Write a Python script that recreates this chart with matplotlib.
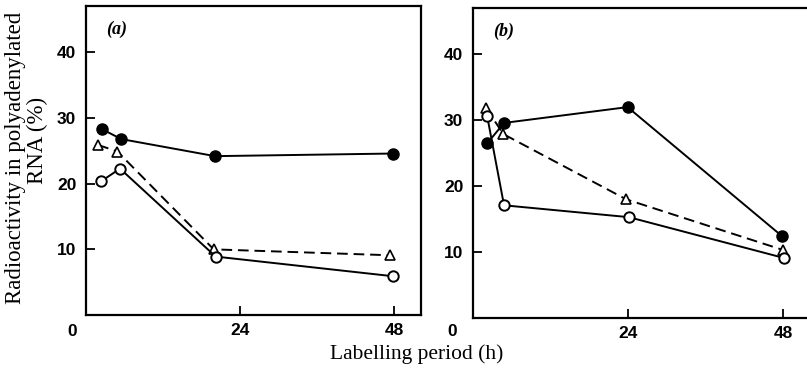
"""Radioactivity in polyadenylated RNA vs labelling period, panels (a) and (b)."""
import matplotlib
matplotlib.use("Agg")
import matplotlib.pyplot as plt

# Panel (a)
a_filled_x = [2.5, 5.5, 20.1, 47.9]
a_filled_y = [28.3, 26.8, 24.2, 24.6]
a_tri_x = [1.9, 4.9, 19.9, 47.4]
a_tri_y = [25.9, 24.9, 10.0, 9.1]
a_open_x = [2.4, 5.3, 20.2, 47.9]
a_open_y = [20.4, 22.3, 8.9, 5.9]

# Panel (b)
b_filled_x = [2.2, 4.8, 23.9, 47.8]
b_filled_y = [26.5, 29.6, 32.0, 12.4]
b_tri_x = [2.0, 4.7, 23.7, 48.0]
b_tri_y = [31.9, 27.9, 18.0, 10.3]
b_open_x = [2.2, 4.8, 24.1, 48.1]
b_open_y = [30.6, 17.1, 15.3, 9.1]

y_ticks = [10, 20, 30, 40]
x_ticks = [24, 48]

TICK_FONT = dict(family=["Liberation Sans Narrow", "Liberation Sans", "DejaVu Sans"],
                 weight="bold", size=12.5)
SERIF = ["Liberation Serif", "DejaVu Serif"]

fig = plt.figure(figsize=(8.07, 3.75), dpi=100)
ax_a = fig.add_axes([0.1066, 0.160, 0.4151, 0.8227])
ax_b = fig.add_axes([0.5861, 0.152, 0.4200, 0.8260])


def draw_panel(ax, fx, fy, tx, ty, ox, oy, tag, xmax):
    ax.plot(fx, fy, "-", color="black", lw=1.4, marker="o", ms=8,
            mfc="black", mec="black", zorder=3)
    ax.plot(tx, ty, "--", color="black", lw=1.4, dashes=(5.5, 3), marker="^",
            ms=6.5, mfc="white", mec="black", mew=1.2, zorder=3)
    ax.plot(ox, oy, "-", color="black", lw=1.4, marker="o", ms=7.5,
            mfc="white", mec="black", mew=1.4, zorder=4)

    ax.set_xlim(0, xmax)
    ax.set_ylim(0, 47)
    ax.set_xticks(x_ticks)
    ax.set_yticks(y_ticks)
    ax.tick_params(direction="in", length=6.5, width=1.3, pad=7)
    ax.tick_params(axis="x", pad=6)
    for lbl in ax.get_xticklabels() + ax.get_yticklabels():
        lbl.set_fontfamily(TICK_FONT["family"])
        lbl.set_fontweight(TICK_FONT["weight"])
        lbl.set_fontsize(TICK_FONT["size"])
    for sp in ax.spines.values():
        sp.set_linewidth(1.6)

    ax.text(0.09, 0.925, tag, transform=ax.transAxes, ha="center", va="center",
            fontsize=13, fontweight="bold", fontstyle="italic", family=SERIF)


draw_panel(ax_a, a_filled_x, a_filled_y, a_tri_x, a_tri_y, a_open_x, a_open_y,
           "(a)", 52.2)
draw_panel(ax_b, b_filled_x, b_filled_y, b_tri_x, b_tri_y, b_open_x, b_open_y,
           "(b)", 52.4)
ax_b.spines["right"].set_visible(False)

# origin labels sit below-left of each corner
fig.text(72 / 807, 1 - 332 / 375, "0", ha="center", va="center", **TICK_FONT)
fig.text(452 / 807, 1 - 332 / 375, "0", ha="center", va="center", **TICK_FONT)

fig.text(16 / 807, 1 - 158 / 375, "Radioactivity in polyadenylated",
         rotation=90, ha="center", va="center", fontsize=16.5, family=SERIF)
fig.text(37 / 807, 1 - 140 / 375, "RNA (%)",
         rotation=90, ha="center", va="center", fontsize=16.5, family=SERIF)
fig.text(417 / 807, 1 - 354 / 375, "Labelling period (h)",
         ha="center", va="center", fontsize=15.5, family=SERIF)

fig.savefig("out.png", dpi=100)
